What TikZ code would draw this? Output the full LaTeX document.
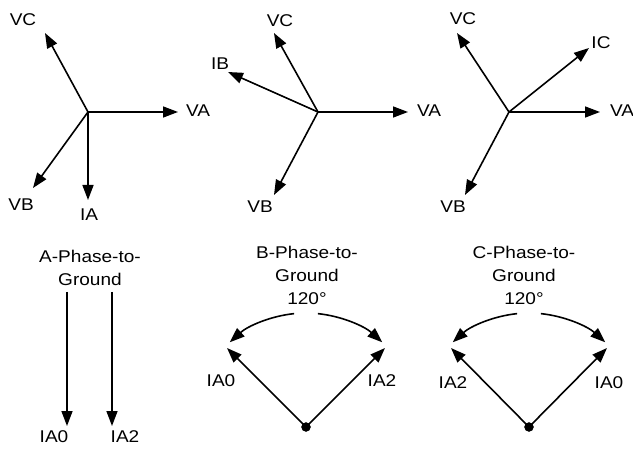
\documentclass[tikz,border=0pt]{standalone}
\usepackage{fontspec}
\setmainfont{Liberation Sans}[FakeStretch=1.12]
\usetikzlibrary{arrows.meta,calc}
\begin{document}
\begin{tikzpicture}[x=1pt,y=1pt,
  vec/.style={line width=1.6pt,-{Triangle[length=15pt,width=11pt]}},
  lbl/.style={inner sep=0pt,font=\fontsize{17}{23}\selectfont},
  ttl/.style={inner sep=0pt,anchor=north,align=center,font=\fontsize{17}{23}\selectfont},
  dotst/.style={circle,fill=black,draw=black,inner sep=0pt,minimum size=9pt}]
\useasboundingbox (0,0) rectangle (633,448);
% ---------- Panel 1 (top) ----------
\coordinate (o1) at (88,336);
\coordinate (va1) at (178,336);
\coordinate (vc1) at (45,415);
\coordinate (vb1) at (33,260);
\coordinate (ia1) at (88,248);
\draw[vec] (o1) -- (va1);
\draw[vec] (o1) -- (vc1);
\draw[vec] (o1) -- (vb1);
\draw[vec] (o1) -- (ia1);
\node[lbl] (tVC1) at (23,428) {VC};
\node[lbl] (tVA1) at (198,337) {VA};
\node[lbl] (tVB1) at (21,243.5) {VB};
\node[lbl] (tIA1) at (89,233) {IA};
% ---------- Panel 2 (top) ----------
\coordinate (o2) at (318,336);
\coordinate (va2) at (408,336);
\coordinate (vc2) at (274,415);
\coordinate (ib2) at (228,376);
\coordinate (vb2) at (274,253);
\draw[vec] (o2) -- (va2);
\draw[vec] (o2) -- (vc2);
\draw[vec] (o2) -- (ib2);
\draw[vec] (o2) -- (vb2);
\node[lbl] (tVC2) at (280,427) {VC};
\node[lbl] (tIB2) at (220,384) {IB};
\node[lbl] (tVA2) at (429,337) {VA};
\node[lbl] (tVB2) at (260,241) {VB};
% ---------- Panel 3 (top) ----------
\coordinate (o3) at (509,336);
\coordinate (va3) at (600,336);
\coordinate (vc3) at (457,415);
\coordinate (ic3) at (589,400);
\coordinate (vb3) at (465,253);
\draw[vec] (o3) -- (va3);
\draw[vec] (o3) -- (vc3);
\draw[vec] (o3) -- (ic3);
\draw[vec] (o3) -- (vb3);
\node[lbl] (tVC3) at (463,429) {VC};
\node[lbl] (tIC3) at (601,405) {IC};
\node[lbl] (tVA3) at (622,337) {VA};
\node[lbl] (tVB3) at (453,241) {VB};
% ---------- Panel 1 (bottom) ----------
\node[ttl] (h1) at (90,198.5) {A-Phase-to-\\Ground};
\coordinate (s0a) at (67,156);
\coordinate (e0a) at (67,22);
\coordinate (s2a) at (112,156);
\coordinate (e2a) at (112,22);
\draw[vec] (s0a) -- (e0a);
\draw[vec] (s2a) -- (e2a);
\node[lbl] (tIA0a) at (54,11) {IA0};
\node[lbl] (tIA2a) at (125,11) {IA2};
% ---------- Panel 2 (bottom) ----------
\node[ttl] (h2) at (307,202) {B-Phase-to-\\Ground\\120°};
\node[dotst] (d2) at (306,21) {};
\coordinate (l2) at (227,100);
\coordinate (r2) at (385,100);
\draw[vec] (d2.center) -- (l2);
\draw[vec] (d2.center) -- (r2);
\node[lbl] (tIA0b) at (221,67) {IA0};
\node[lbl] (tIA2b) at (382,67) {IA2};
\coordinate (al2) at ($(d2)+(96:114)$);
\coordinate (ar2) at ($(d2)+(84:114)$);
\draw[vec] (al2) arc[start angle=96,end angle=132,radius=114];
\draw[vec] (ar2) arc[start angle=84,end angle=48,radius=114];
% ---------- Panel 3 (bottom) ----------
\node[ttl] (h3) at (524,202) {C-Phase-to-\\Ground\\120°};
\node[dotst] (d3) at (529,21) {};
\coordinate (l3) at (451,100);
\coordinate (r3) at (607,100);
\draw[vec] (d3.center) -- (l3);
\draw[vec] (d3.center) -- (r3);
\node[lbl] (tIA2c) at (453,65) {IA2};
\node[lbl] (tIA0c) at (609,65) {IA0};
\coordinate (al3) at ($(d3)+(96:114)$);
\coordinate (ar3) at ($(d3)+(84:114)$);
\draw[vec] (al3) arc[start angle=96,end angle=132,radius=114];
\draw[vec] (ar3) arc[start angle=84,end angle=48,radius=114];
\end{tikzpicture}
\end{document}
